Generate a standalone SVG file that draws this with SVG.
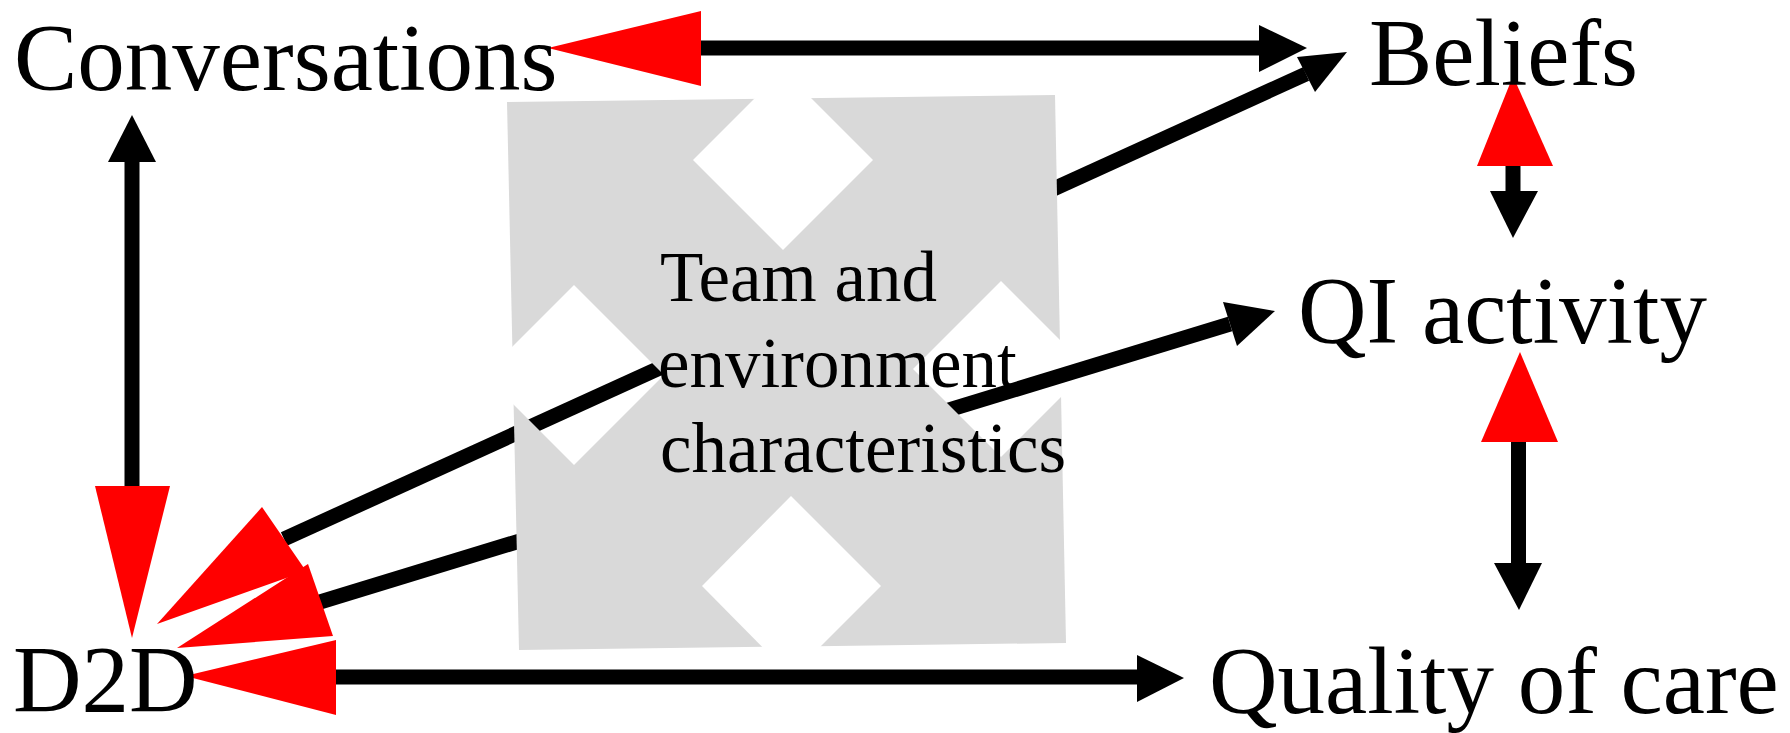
<svg xmlns="http://www.w3.org/2000/svg" width="1790" height="733" viewBox="0 0 1790 733">
<style>
  .lbl { font-family: "Liberation Serif", "Times New Roman", serif; font-size: 95px; fill: #000; }
  .team { font-family: "Liberation Serif", "Times New Roman", serif; font-size: 71px; fill: #000; }
  .ln { stroke: #000; stroke-width: 15; fill: none; }
  .red { fill: #ff0000; }
  .blk { fill: #000; }
</style>
<defs>
  <mask id="holes" maskUnits="userSpaceOnUse" x="0" y="0" width="1790" height="733">
    <rect x="0" y="0" width="1790" height="733" fill="#fff"/>
    <polygon points="783,70 873,160 783,250 693,160" fill="#000"/>
    <polygon points="574,285 664,375 574,465 484,375" fill="#000"/>
    <polygon points="1001,281 1089,369 1001,457 913,369" fill="#000"/>
    <polygon points="791,496 881,586 791,676 702,586" fill="#000"/>
  </mask>
</defs>
<rect width="1790" height="733" fill="#fff"/>
<g id="connectors">
  <!-- Conversations <-> Beliefs -->
  <line class="ln" x1="700" y1="48" x2="1260" y2="48"/>
  <polygon class="red" points="548,48 701,11 701,86"/>
  <polygon class="blk" points="1259,25 1259,72 1307,48"/>
  <!-- Conversations <-> D2D -->
  <line class="ln" x1="132" y1="161" x2="132" y2="487"/>
  <polygon class="blk" points="132,115 108,162 156,162"/>
  <polygon class="red" points="95,486 170,486 132,638"/>
  <!-- D2D <-> Beliefs -->
  <line class="ln" x1="284" y1="539" x2="1306" y2="74"/>
  <polygon class="red" points="157,624 262,507 306,571"/>
  <polygon class="blk" points="1347,52 1297,57 1315,92"/>
  <!-- D2D <-> QI activity -->
  <line class="ln" x1="320" y1="602" x2="1230" y2="324"/>
  <polygon class="red" points="177,648 308,564 333,636"/>
  <polygon class="blk" points="1223,302 1275,311 1237,346"/>
  <!-- D2D <-> Quality of care -->
  <line class="ln" x1="335" y1="677" x2="1138" y2="677"/>
  <polygon class="red" points="185,676 336,640 336,715"/>
  <polygon class="blk" points="1137,655 1137,702 1184,678"/>
  <!-- Beliefs <-> QI activity -->
  <line class="ln" x1="1513" y1="165" x2="1513" y2="192"/>
  <polygon class="red" points="1513,76 1477,166 1553,166"/>
  <polygon class="blk" points="1490,191 1538,191 1513,238"/>
  <!-- QI activity <-> Quality of care -->
  <line class="ln" x1="1518.5" y1="441" x2="1518.5" y2="564"/>
  <polygon class="red" points="1520,352 1481,442 1558,442"/>
  <polygon class="blk" points="1494,563 1542,563 1519,610"/>
</g>
<g id="team">
  <polygon points="507,102 1055,95 1066,643 519,650" fill="#d9d9d9" mask="url(#holes)"/>
  <text class="team" x="660" y="301">Team and</text>
  <text class="team" x="658" y="387">environment</text>
  <text class="team" x="660" y="472">characteristics</text>
</g>
<g id="node-conversations"><text class="lbl" x="14" y="90">Conversations</text></g>
<g id="node-beliefs"><text class="lbl" x="1369" y="85">Beliefs</text></g>
<g id="node-qi"><text class="lbl" x="1298" y="343">QI activity</text></g>
<g id="node-d2d"><text class="lbl" x="13" y="712">D2D</text></g>
<g id="node-quality"><text class="lbl" x="1209" y="713">Quality of care</text></g>
</svg>
